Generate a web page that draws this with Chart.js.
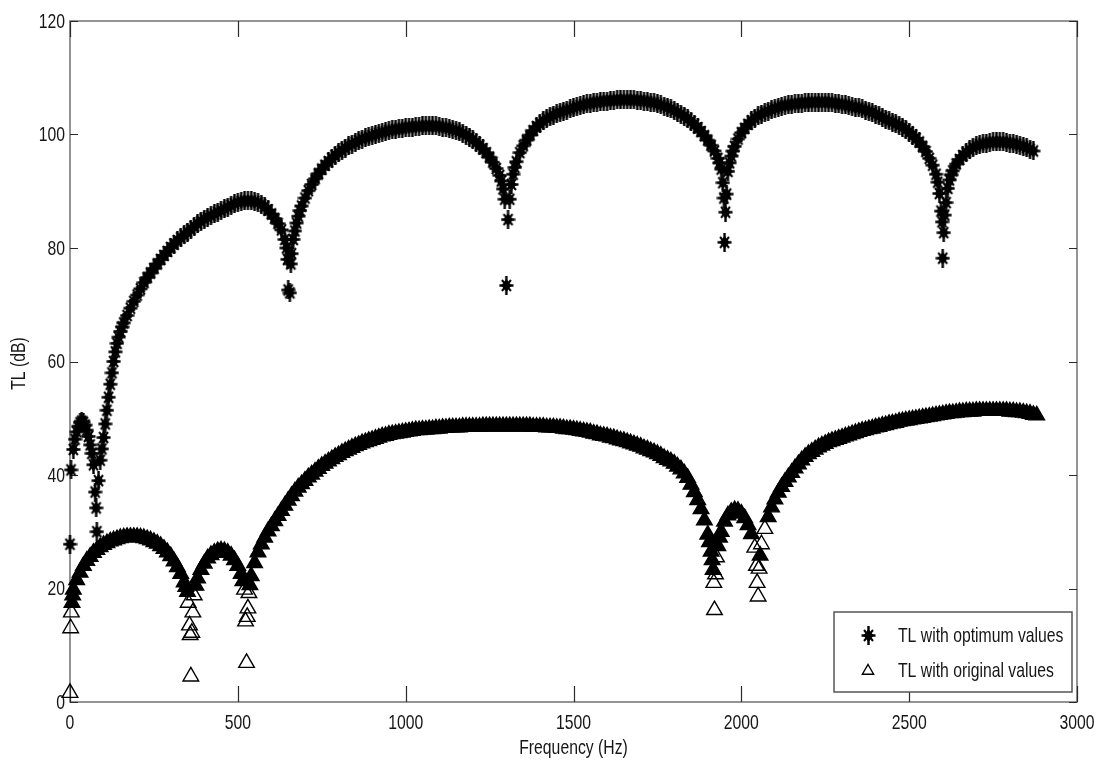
<!DOCTYPE html>
<html>
<head>
<meta charset="utf-8">
<title>Transmission loss</title>
<script src="https://cdn.jsdelivr.net/npm/chart.js@4.4.1/dist/chart.umd.min.js"></script>
<style>
  html, body { margin: 0; padding: 0; background: #ffffff; }
  #wrap { position: relative; width: 1104px; height: 771px; }
</style>
</head>
<body>
<div id="wrap"><canvas id="tl" width="1104" height="771"></canvas></div>
<script>
// Frequency sweep (Hz), shared by both curves
const freqHz = [
  0, 10, 20, 30, 40, 50, 60, 70, 80, 90,
  100, 110, 120, 130, 140, 150, 160, 170, 180, 190,
  200, 210, 220, 230, 240, 250, 260, 270, 280, 290,
  300, 310, 320, 330, 340, 350, 360, 370, 380, 390,
  400, 410, 420, 430, 440, 450, 460, 470, 480, 490,
  500, 510, 520, 530, 540, 550, 560, 570, 580, 590,
  600, 610, 620, 630, 640, 650, 660, 670, 680, 690,
  700, 710, 720, 730, 740, 750, 760, 770, 780, 790,
  800, 810, 820, 830, 840, 850, 860, 870, 880, 890,
  900, 910, 920, 930, 940, 950, 960, 970, 980, 990,
  1000, 1010, 1020, 1030, 1040, 1050, 1060, 1070, 1080, 1090,
  1100, 1110, 1120, 1130, 1140, 1150, 1160, 1170, 1180, 1190,
  1200, 1210, 1220, 1230, 1240, 1250, 1260, 1270, 1280, 1290,
  1300, 1310, 1320, 1330, 1340, 1350, 1360, 1370, 1380, 1390,
  1400, 1410, 1420, 1430, 1440, 1450, 1460, 1470, 1480, 1490,
  1500, 1510, 1520, 1530, 1540, 1550, 1560, 1570, 1580, 1590,
  1600, 1610, 1620, 1630, 1640, 1650, 1660, 1670, 1680, 1690,
  1700, 1710, 1720, 1730, 1740, 1750, 1760, 1770, 1780, 1790,
  1800, 1810, 1820, 1830, 1840, 1850, 1860, 1870, 1880, 1890,
  1900, 1910, 1920, 1930, 1940, 1950, 1960, 1970, 1980, 1990,
  2000, 2010, 2020, 2030, 2040, 2050, 2060, 2070, 2080, 2090,
  2100, 2110, 2120, 2130, 2140, 2150, 2160, 2170, 2180, 2190,
  2200, 2210, 2220, 2230, 2240, 2250, 2260, 2270, 2280, 2290,
  2300, 2310, 2320, 2330, 2340, 2350, 2360, 2370, 2380, 2390,
  2400, 2410, 2420, 2430, 2440, 2450, 2460, 2470, 2480, 2490,
  2500, 2510, 2520, 2530, 2540, 2550, 2560, 2570, 2580, 2590,
  2600, 2610, 2620, 2630, 2640, 2650, 2660, 2670, 2680, 2690,
  2700, 2710, 2720, 2730, 2740, 2750, 2760, 2770, 2780, 2790,
  2800, 2810, 2820, 2830, 2840, 2850, 2860, 2870
];

// TL (dB) with optimum values, one per entry of freqHz
const tlOptimum = [
  27.8, 44.5, 47.6, 49.2, 49.3, 47.9, 45.3, 41.8, 30.0, 42.6,
  46.6, 51.4, 56.0, 60.0, 63.2, 65.3, 66.8, 68.1, 69.4, 70.6,
  71.7, 72.8, 73.9, 74.8, 75.6, 76.4, 77.2, 78.0, 78.7, 79.4,
  80.1, 80.7, 81.3, 81.8, 82.3, 82.8, 83.3, 83.8, 84.3, 84.7,
  85.1, 85.4, 85.7, 86.0, 86.3, 86.6, 86.9, 87.2, 87.5, 87.8,
  88.0, 88.2, 88.3, 88.3, 88.3, 88.2, 88.0, 87.7, 87.3, 86.7,
  86.0, 85.2, 84.3, 83.2, 81.5, 72.6, 79.0, 83.0, 85.6, 87.4,
  88.8, 90.1, 91.2, 92.2, 93.1, 93.9, 94.6, 95.2, 95.8, 96.3,
  96.8, 97.2, 97.6, 98.0, 98.3, 98.6, 98.9, 99.2, 99.4, 99.6,
  99.8, 100.0, 100.2, 100.4, 100.5, 100.7, 100.8, 100.9, 101.0, 101.1,
  101.2, 101.3, 101.3, 101.4, 101.4, 101.5, 101.5, 101.5, 101.5, 101.5,
  101.4, 101.3, 101.2, 101.1, 100.9, 100.7, 100.5, 100.2, 99.9, 99.5,
  99.1, 98.6, 98.1, 97.5, 96.8, 96.0, 95.1, 94.0, 92.8, 90.4,
  73.4, 88.6, 93.0, 95.2, 96.8, 98.0, 99.0, 99.9, 100.7, 101.4,
  101.9, 102.4, 102.8, 103.1, 103.4, 103.7, 103.9, 104.1, 104.3, 104.5,
  104.7, 104.9, 105.1, 105.2, 105.4, 105.5, 105.6, 105.7, 105.8, 105.9,
  105.9, 106.0, 106.0, 106.1, 106.1, 106.1, 106.1, 106.1, 106.1, 106.0,
  106.0, 105.9, 105.8, 105.7, 105.6, 105.4, 105.2, 105.0, 104.8, 104.5,
  104.2, 103.9, 103.6, 103.2, 102.8, 102.3, 101.8, 101.2, 100.5, 99.8,
  99.0, 98.1, 97.1, 95.8, 93.9, 81.0, 93.5, 96.2, 97.9, 99.2,
  100.3, 101.1, 101.8, 102.4, 102.9, 103.3, 103.6, 103.9, 104.1, 104.4,
  104.6, 104.8, 105.0, 105.1, 105.2, 105.3, 105.4, 105.5, 105.5, 105.6,
  105.6, 105.7, 105.7, 105.7, 105.7, 105.7, 105.7, 105.6, 105.5, 105.4,
  105.3, 105.2, 105.1, 104.9, 104.8, 104.7, 104.5, 104.3, 104.1, 103.9,
  103.6, 103.3, 103.0, 102.7, 102.4, 102.2, 101.9, 101.6, 101.3, 100.9,
  100.4, 99.9, 99.3, 98.7, 97.9, 97.0, 95.8, 94.6, 93.0, 89.6,
  78.2, 88.0, 92.0, 93.6, 94.8, 95.6, 96.3, 96.8, 97.3, 97.7,
  98.0, 98.2, 98.4, 98.5, 98.6, 98.7, 98.7, 98.7, 98.7, 98.6,
  98.5, 98.4, 98.3, 98.1, 97.9, 97.7, 97.4, 97.1
];

// TL (dB) with original values, one per entry of freqHz
const tlOriginal = [
  1.6, 19.8, 21.5, 22.8, 24.0, 24.9, 25.6, 26.3, 26.8, 27.3,
  27.7, 28.0, 28.3, 28.5, 28.7, 28.9, 29.0, 29.1, 29.1, 29.1,
  29.1, 29.0, 28.9, 28.7, 28.5, 28.2, 27.9, 27.5, 27.0, 26.4,
  25.7, 24.8, 23.8, 22.6, 21.1, 19.4, 4.5, 18.8, 21.8, 23.3,
  24.4, 25.3, 25.9, 26.3, 26.6, 26.7, 26.6, 26.3, 25.8, 25.0,
  24.0, 22.6, 19.8, 16.5, 22.2, 24.5, 26.4, 27.8, 29.0, 30.1,
  31.0, 31.9, 32.8, 33.7, 34.6, 35.5, 36.3, 37.1, 37.8, 38.4,
  39.0, 39.6, 40.1, 40.6, 41.1, 41.6, 42.0, 42.4, 42.8, 43.2,
  43.5, 43.9, 44.2, 44.5, 44.8, 45.1, 45.3, 45.6, 45.8, 46.0,
  46.2, 46.4, 46.6, 46.8, 46.9, 47.1, 47.2, 47.3, 47.4, 47.5,
  47.6, 47.7, 47.8, 47.9, 47.9, 48.0, 48.0, 48.1, 48.1, 48.2,
  48.2, 48.3, 48.3, 48.4, 48.4, 48.4, 48.4, 48.5, 48.5, 48.5,
  48.5, 48.5, 48.5, 48.6, 48.6, 48.6, 48.6, 48.6, 48.6, 48.6,
  48.6, 48.6, 48.6, 48.6, 48.6, 48.6, 48.6, 48.6, 48.5, 48.5,
  48.5, 48.5, 48.4, 48.4, 48.4, 48.3, 48.3, 48.2, 48.1, 48.1,
  48.0, 47.9, 47.8, 47.7, 47.6, 47.5, 47.3, 47.2, 47.0, 46.9,
  46.8, 46.6, 46.5, 46.3, 46.1, 46.0, 45.8, 45.6, 45.4, 45.2,
  45.0, 44.7, 44.5, 44.2, 44.0, 43.7, 43.4, 43.0, 42.7, 42.4,
  42.0, 41.5, 41.0, 40.3, 39.5, 38.3, 37.0, 35.6, 34.0, 32.0,
  29.5, 26.5, 16.2, 27.5, 30.0, 31.8, 32.9, 33.5, 33.8, 33.7,
  33.2, 32.4, 31.2, 29.6, 27.2, 18.6, 27.8, 30.5, 32.6, 34.3,
  35.7, 36.9, 37.9, 38.8, 39.6, 40.4, 41.2, 41.9, 42.6, 43.2,
  43.7, 44.1, 44.5, 44.9, 45.2, 45.5, 45.8, 46.0, 46.2, 46.4,
  46.6, 46.8, 47.0, 47.2, 47.4, 47.6, 47.8, 47.9, 48.1, 48.2,
  48.4, 48.5, 48.7, 48.8, 49.0, 49.1, 49.2, 49.4, 49.5, 49.6,
  49.7, 49.8, 49.9, 50.0, 50.1, 50.2, 50.3, 50.4, 50.5, 50.6,
  50.7, 50.8, 50.9, 50.9, 51.0, 51.1, 51.1, 51.2, 51.2, 51.2,
  51.3, 51.3, 51.3, 51.3, 51.3, 51.3, 51.3, 51.3, 51.3, 51.3,
  51.2, 51.2, 51.1, 51.1, 51.0, 50.9, 50.8, 50.6
];

// Extra samples around the notches and steep flanks
const extraFreqOptimum = [3, 15, 25, 35, 45, 55, 65, 75, 78, 85, 95,
  105, 115, 125, 135, 145, 155,
  645, 648, 655, 658, 665, 675, 685,
  1285, 1295, 1305, 1315, 1325,
  1935, 1945, 1948, 1953, 1956, 1965, 1975,
  2585, 2595, 2598, 2603, 2606, 2615, 2625];
const extraTLOptimum = [40.9, 46.3, 48.6, 49.5, 48.8, 46.8, 43.8, 37.0, 34.2, 39.0, 44.6,
  49.0, 53.7, 58.0, 61.7, 64.3, 66.1,
  80.0, 78.0, 72.1, 77.2, 81.5, 84.4, 86.6,
  91.8, 88.6, 85.0, 91.2, 94.2,
  95.0, 91.5, 88.8, 86.3, 89.5, 95.0, 97.1,
  91.6, 86.5, 84.6, 82.7, 85.8, 90.5, 92.9];

const extraFreqOriginal = [2, 4, 6, 8,
  345, 352, 356, 358, 363, 366, 375,
  515, 523, 526, 528, 533, 536,
  1905, 1913, 1916, 1918, 1923, 1926, 1935,
  2045, 2047, 2053, 2056, 2880];
const extraTLOriginal = [13.0, 15.8, 17.5, 18.8,
  20.3, 17.5, 13.5, 11.8, 12.2, 15.8, 20.5,
  21.3, 14.2, 6.9, 15.0, 19.2, 20.6,
  28.2, 25.0, 23.3, 21.0, 22.5, 25.5, 29.0,
  24.0, 21.0, 23.5, 25.8, 50.5];

const xTicks = [0, 500, 1000, 1500, 2000, 2500, 3000];
const yTicks = [0, 20, 40, 60, 80, 100, 120];
const seriesNames = ['TL with optimum values', 'TL with original values'];
const axisTitles = { x: 'Frequency (Hz)', y: 'TL (dB)' };

// Text is set in a narrow sans: regular face squeezed horizontally
const FONT = '21px "Liberation Sans", Arial, sans-serif';
const SQUEEZE = 0.75;
const TEXT = '#161616';

function buildPoints(fs, vs, extraF, extraV) {
  const pts = fs.map((f, i) => ({ x: f, y: vs[i] }));
  extraF.forEach((f, i) => pts.push({ x: f, y: extraV[i] }));
  pts.sort((a, b) => a.x - b.x);
  return pts;
}

const optimumPts = buildPoints(freqHz, tlOptimum, extraFreqOptimum, extraTLOptimum);
const originalPts = buildPoints(freqHz, tlOriginal, extraFreqOriginal, extraTLOriginal);

// Asterisk marker, a little taller than wide, with a solid diamond core
function makeAsterisk() {
  const c = document.createElement('canvas');
  c.width = 15; c.height = 19;
  const g = c.getContext('2d');
  g.strokeStyle = '#000';
  g.fillStyle = '#000';
  g.lineCap = 'butt';
  g.lineWidth = 2.4;
  g.beginPath();
  g.moveTo(7.5, 0); g.lineTo(7.5, 19);
  g.moveTo(0.5, 9.5); g.lineTo(14.5, 9.5);
  g.stroke();
  g.lineWidth = 2;
  g.beginPath();
  g.moveTo(3, 4); g.lineTo(12, 15);
  g.moveTo(12, 4); g.lineTo(3, 15);
  g.stroke();
  g.beginPath();
  g.moveTo(7.5, 3); g.lineTo(12.5, 9.5); g.lineTo(7.5, 16); g.lineTo(2.5, 9.5);
  g.closePath();
  g.fill();
  return c;
}
const asterisk = makeAsterisk();

// Triangles on the smooth arches merge into a solid band; on steep flanks and
// notches they stay open so the individual markers read clearly.
function triangleFill(c) {
  if (c.type !== 'data') return '#000';
  const d = c.dataset.data, i = c.dataIndex;
  const prev = i > 0 ? Math.abs(d[i].y - d[i - 1].y) : 0;
  const next = i < d.length - 1 ? Math.abs(d[i].y - d[i + 1].y) : 0;
  return Math.max(prev, next) > 2.5 ? 'rgba(0,0,0,0)' : '#000';
}

function squeezedText(ctx, text, x, y, align, rotation) {
  ctx.save();
  ctx.translate(x, y);
  if (rotation) ctx.rotate(rotation);
  ctx.scale(SQUEEZE, 1);
  ctx.font = FONT;
  ctx.fillStyle = TEXT;
  ctx.textAlign = align;
  ctx.textBaseline = 'middle';
  ctx.fillText(text, 0, 0);
  ctx.restore();
}

// Box frame with inward tick marks on all four sides, tick labels and axis titles
const axesBox = {
  id: 'axesBox',
  beforeDatasetsDraw(chart) {
    const { ctx, chartArea: a, scales: { x, y } } = chart;
    ctx.save();
    ctx.strokeStyle = '#7a7a7a';
    ctx.lineWidth = 1.6;
    ctx.strokeRect(a.left, a.top, a.right - a.left, a.bottom - a.top);
    ctx.strokeStyle = '#2a2a2a';
    ctx.lineWidth = 1.2;
    ctx.beginPath();
    xTicks.forEach(v => {
      const px = Math.round(x.getPixelForValue(v)) + 0.5;
      ctx.moveTo(px, a.bottom); ctx.lineTo(px, a.bottom - 16);
      ctx.moveTo(px, a.top); ctx.lineTo(px, a.top + 16);
    });
    yTicks.forEach(v => {
      const py = Math.round(y.getPixelForValue(v)) + 0.5;
      ctx.moveTo(a.left, py); ctx.lineTo(a.left + 8, py);
      ctx.moveTo(a.right, py); ctx.lineTo(a.right - 8, py);
    });
    ctx.stroke();
    ctx.restore();

    xTicks.forEach(v => squeezedText(ctx, String(v), x.getPixelForValue(v), a.bottom + 21, 'center'));
    yTicks.forEach(v => squeezedText(ctx, String(v), a.left - 5, y.getPixelForValue(v) + 1, 'right'));
    squeezedText(ctx, axisTitles.x, (a.left + a.right) / 2, a.bottom + 46, 'center');
    squeezedText(ctx, axisTitles.y, 19, (a.top + a.bottom) / 2 + 2, 'center', -Math.PI / 2);
  }
};

// Boxed legend in the lower-right corner of the plot area
const boxLegend = {
  id: 'boxLegend',
  afterDatasetsDraw(chart) {
    const { ctx, chartArea: a } = chart;
    const w = 238, h = 80;
    const left = a.right - 5 - w, top = a.bottom - 10 - h;
    ctx.save();
    ctx.fillStyle = '#ffffff';
    ctx.fillRect(left, top, w, h);
    ctx.strokeStyle = '#555';
    ctx.lineWidth = 1.5;
    ctx.strokeRect(left, top, w, h);
    const rows = [top + 23, top + 58];
    chart.data.datasets.forEach((ds, i) => {
      const mx = left + 34, my = rows[i];
      if (ds.pointStyle === asterisk) {
        ctx.drawImage(asterisk, Math.round(mx - asterisk.width / 2), Math.round(my - asterisk.height / 2));
      } else if (Chart.helpers && Chart.helpers.drawPoint) {
        ctx.strokeStyle = '#000';
        ctx.fillStyle = 'rgba(0,0,0,0)';
        ctx.lineWidth = ds.pointBorderWidth;
        Chart.helpers.drawPoint(ctx, { pointStyle: ds.pointStyle, radius: 6.5, borderWidth: ds.pointBorderWidth, rotation: 0 }, mx, my + 1);
      }
      squeezedText(ctx, ds.label, left + 64, my + 1, 'left');
    });
    ctx.restore();
  }
};

new Chart(document.getElementById('tl').getContext('2d'), {
  type: 'scatter',
  data: {
    datasets: [
      {
        label: seriesNames[0],
        data: optimumPts,
        showLine: false,
        pointStyle: asterisk,
        pointRadius: 7,
        pointBorderWidth: 0,
        pointBorderColor: '#000',
        pointBackgroundColor: '#000',
        clip: false
      },
      {
        label: seriesNames[1],
        data: originalPts,
        showLine: false,
        pointStyle: 'triangle',
        pointRadius: 9,
        pointBorderWidth: 1.4,
        pointBorderColor: '#000',
        pointBackgroundColor: triangleFill,
        clip: false
      }
    ]
  },
  options: {
    responsive: false,
    animation: false,
    devicePixelRatio: 1,
    events: [],
    layout: { padding: { left: 0, top: 21, right: 27, bottom: 0 } },
    plugins: { legend: { display: false }, tooltip: { enabled: false } },
    scales: {
      x: {
        type: 'linear',
        min: 0, max: 3000,
        afterBuildTicks: s => { s.ticks = xTicks.map(v => ({ value: v })); },
        afterFit: s => { s.height = 69; },
        grid: { display: false },
        border: { display: false },
        ticks: { display: false }
      },
      y: {
        type: 'linear',
        min: 0, max: 120,
        afterBuildTicks: s => { s.ticks = yTicks.map(v => ({ value: v })); },
        afterFit: s => { s.width = 70; },
        grid: { display: false },
        border: { display: false },
        ticks: { display: false }
      }
    }
  },
  plugins: [axesBox, boxLegend]
});
</script>
</body>
</html>
